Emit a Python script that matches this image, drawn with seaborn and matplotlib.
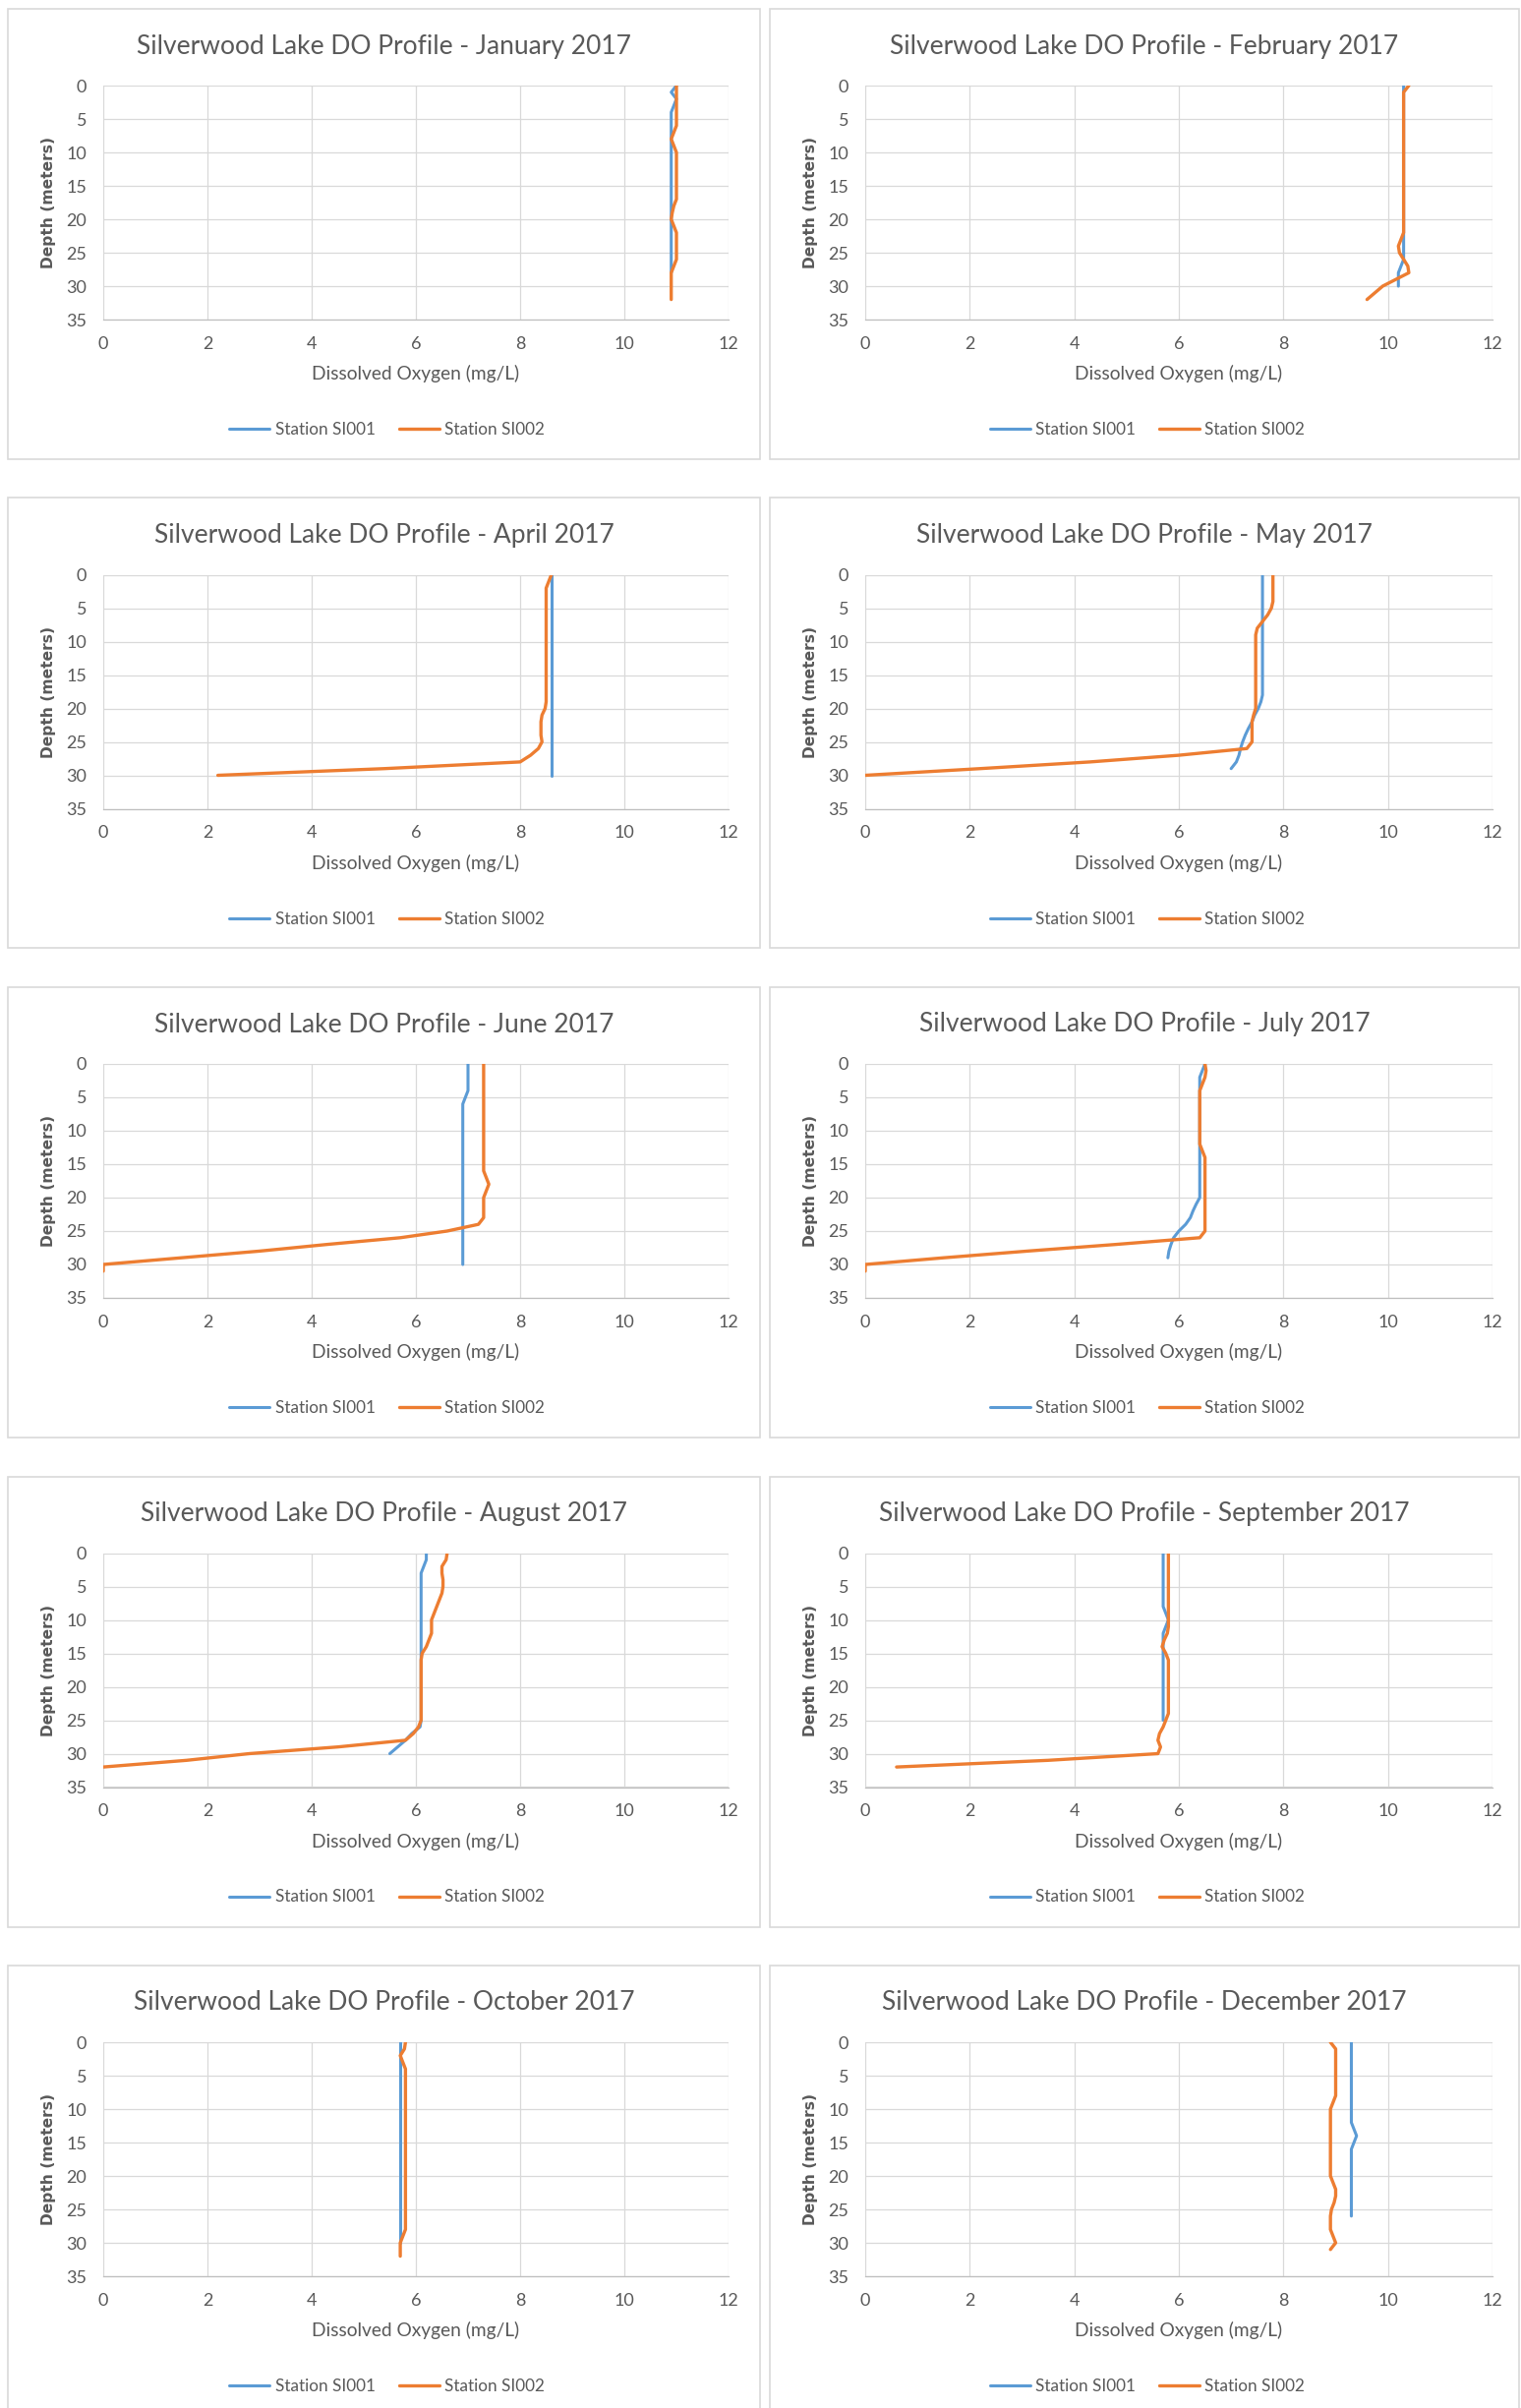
import matplotlib
matplotlib.use("Agg")
import matplotlib.pyplot as plt
import seaborn as sns
import pandas as pd
from matplotlib.patches import Rectangle

# depth readings (m), shared by every profile
depths = [0, 1, 2, 3, 4, 5, 6, 7, 8, 9, 10, 11, 12, 13, 14, 15, 16,
          17, 18, 19, 20, 21, 22, 23, 24, 25, 26, 27, 28, 29, 30, 31, 32]

months = ["January", "February", "April", "May", "June",
          "July", "August", "September", "October", "December"]

# dissolved oxygen (mg/L), one value per metre from the surface
jan_si001 = [11.0, 10.9, 11.0, 10.95, 10.9, 10.9, 10.9, 10.9, 10.9, 10.9, 10.9, 10.9, 10.9, 10.9, 10.9,
             10.9, 10.9, 10.9, 10.9, 10.9, 10.9, 10.9, 10.9, 10.9, 10.9, 10.9, 10.9, 10.9, 10.9]
jan_si002 = [11.0, 11.0, 11.0, 11.0, 11.0, 11.0, 11.0, 10.95, 10.9, 10.95, 11.0, 11.0, 11.0, 11.0, 11.0,
             11.0, 11.0, 11.0, 10.95, 10.92, 10.9, 10.95, 11.0, 11.0, 11.0, 11.0, 11.0, 10.95, 10.9,
             10.9, 10.9, 10.9, 10.9]

feb_si001 = [10.3, 10.3, 10.3, 10.3, 10.3, 10.3, 10.3, 10.3, 10.3, 10.3, 10.3, 10.3, 10.3, 10.3, 10.3,
             10.3, 10.3, 10.3, 10.3, 10.3, 10.3, 10.3, 10.3, 10.3, 10.3, 10.3, 10.3, 10.25, 10.2, 10.2, 10.2]
feb_si002 = [10.4, 10.3, 10.3, 10.3, 10.3, 10.3, 10.3, 10.3, 10.3, 10.3, 10.3, 10.3, 10.3, 10.3, 10.3,
             10.3, 10.3, 10.3, 10.3, 10.3, 10.3, 10.3, 10.3, 10.25, 10.2, 10.22, 10.3, 10.38, 10.4,
             10.15, 9.9, 9.75, 9.6]

apr_si001 = [8.6, 8.6, 8.6, 8.6, 8.6, 8.6, 8.6, 8.6, 8.6, 8.6, 8.6, 8.6, 8.6, 8.6, 8.6, 8.6,
             8.6, 8.6, 8.6, 8.6, 8.6, 8.6, 8.6, 8.6, 8.6, 8.6, 8.6, 8.6, 8.6, 8.6, 8.6]
apr_si002 = [8.6, 8.55, 8.5, 8.5, 8.5, 8.5, 8.5, 8.5, 8.5, 8.5, 8.5, 8.5, 8.5, 8.5, 8.5, 8.5,
             8.5, 8.5, 8.5, 8.5, 8.48, 8.42, 8.4, 8.4, 8.4, 8.42, 8.35, 8.2, 8.0, 5.4, 2.2]

may_si001 = [7.6, 7.6, 7.6, 7.6, 7.6, 7.6, 7.6, 7.6, 7.6, 7.6, 7.6, 7.6, 7.6, 7.6, 7.6, 7.6,
             7.6, 7.6, 7.6, 7.57, 7.52, 7.45, 7.4, 7.33, 7.27, 7.22, 7.18, 7.15, 7.1, 7.0]
may_si002 = [7.8, 7.8, 7.8, 7.8, 7.8, 7.77, 7.7, 7.6, 7.5, 7.47, 7.47, 7.47, 7.47, 7.47, 7.47, 7.47,
             7.47, 7.47, 7.47, 7.47, 7.47, 7.43, 7.4, 7.4, 7.4, 7.4, 7.3, 6.0, 4.3, 2.2, 0.0]

jun_si001 = [7.0, 7.0, 7.0, 7.0, 7.0, 6.95, 6.9, 6.9, 6.9, 6.9, 6.9, 6.9, 6.9, 6.9, 6.9, 6.9,
             6.9, 6.9, 6.9, 6.9, 6.9, 6.9, 6.9, 6.9, 6.9, 6.9, 6.9, 6.9, 6.9, 6.9, 6.9]
jun_si002 = [7.3, 7.3, 7.3, 7.3, 7.3, 7.3, 7.3, 7.3, 7.3, 7.3, 7.3, 7.3, 7.3, 7.3, 7.3, 7.3,
             7.3, 7.35, 7.4, 7.35, 7.3, 7.3, 7.3, 7.3, 7.2, 6.6, 5.7, 4.3, 3.0, 1.5, 0.0, 0.0]

jul_si001 = [6.5, 6.45, 6.4, 6.4, 6.4, 6.4, 6.4, 6.4, 6.4, 6.4, 6.4, 6.4, 6.4, 6.4, 6.4, 6.4,
             6.4, 6.4, 6.4, 6.4, 6.4, 6.33, 6.27, 6.22, 6.13, 6.0, 5.9, 5.85, 5.81, 5.79]
jul_si002 = [6.5, 6.52, 6.5, 6.45, 6.4, 6.4, 6.4, 6.4, 6.4, 6.4, 6.4, 6.4, 6.4, 6.45, 6.5, 6.5,
             6.5, 6.5, 6.5, 6.5, 6.5, 6.5, 6.5, 6.5, 6.5, 6.5, 6.4, 4.8, 3.1, 1.5, 0.0, 0.0]

aug_si001 = [6.2, 6.2, 6.15, 6.1, 6.1, 6.1, 6.1, 6.1, 6.1, 6.1, 6.1, 6.1, 6.1, 6.1, 6.1, 6.1,
             6.1, 6.1, 6.1, 6.1, 6.1, 6.1, 6.1, 6.1, 6.1, 6.1, 6.08, 5.92, 5.8, 5.65, 5.5]
aug_si002 = [6.6, 6.58, 6.5, 6.5, 6.52, 6.52, 6.5, 6.45, 6.4, 6.35, 6.3, 6.3, 6.3, 6.25, 6.2, 6.12,
             6.1, 6.1, 6.1, 6.1, 6.1, 6.1, 6.1, 6.1, 6.1, 6.1, 6.05, 5.95, 5.8, 4.5, 2.8, 1.6, 0.0]

sep_si001 = [5.7, 5.7, 5.7, 5.7, 5.7, 5.7, 5.7, 5.7, 5.7, 5.75, 5.8, 5.75, 5.7, 5.7, 5.7, 5.7,
             5.7, 5.7, 5.7, 5.7, 5.7, 5.7, 5.7, 5.7, 5.7, 5.7]
sep_si002 = [5.8, 5.8, 5.8, 5.8, 5.8, 5.8, 5.8, 5.8, 5.8, 5.8, 5.8, 5.8, 5.78, 5.72, 5.68, 5.75,
             5.8, 5.8, 5.8, 5.8, 5.8, 5.8, 5.8, 5.8, 5.8, 5.75, 5.7, 5.63, 5.6, 5.65, 5.6, 3.5, 0.6]

oct_si001 = [5.7, 5.7, 5.7, 5.7, 5.7, 5.7, 5.7, 5.7, 5.7, 5.7, 5.7, 5.7, 5.7, 5.7, 5.7, 5.7,
             5.7, 5.7, 5.7, 5.7, 5.7, 5.7, 5.7, 5.7, 5.7, 5.7, 5.7, 5.7, 5.7, 5.7, 5.7]
oct_si002 = [5.8, 5.78, 5.7, 5.75, 5.8, 5.8, 5.8, 5.8, 5.8, 5.8, 5.8, 5.8, 5.8, 5.8, 5.8, 5.8,
             5.8, 5.8, 5.8, 5.8, 5.8, 5.8, 5.8, 5.8, 5.8, 5.8, 5.8, 5.8, 5.8, 5.75, 5.7, 5.7, 5.7]

dec_si001 = [9.3, 9.3, 9.3, 9.3, 9.3, 9.3, 9.3, 9.3, 9.3, 9.3, 9.3, 9.3, 9.3, 9.35, 9.4, 9.35,
             9.3, 9.3, 9.3, 9.3, 9.3, 9.3, 9.3, 9.3, 9.3, 9.3, 9.3]
dec_si002 = [8.9, 9.0, 9.0, 9.0, 9.0, 9.0, 9.0, 9.0, 9.0, 8.95, 8.9, 8.9, 8.9, 8.9, 8.9, 8.9,
             8.9, 8.9, 8.9, 8.9, 8.9, 8.95, 9.0, 9.0, 8.97, 8.92, 8.9, 8.9, 8.9, 8.95, 9.0, 8.9]

si001 = [jan_si001, feb_si001, apr_si001, may_si001, jun_si001,
         jul_si001, aug_si001, sep_si001, oct_si001, dec_si001]
si002 = [jan_si002, feb_si002, apr_si002, may_si002, jun_si002,
         jul_si002, aug_si002, sep_si002, oct_si002, dec_si002]

W, H = 1547, 2449
BLUE = "#5B9BD5"
ORANGE = "#ED7D31"
TXT = "#595959"
GRID = "#D9D9D9"

sns.set_theme(style="white")
plt.rcParams['font.family'] = ['Lato', 'DejaVu Sans']

fig = plt.figure(figsize=(W / 100, H / 100), dpi=100)
fig.patch.set_facecolor("white")

ROW_STEP = 497.5
for i, month in enumerate(months):
    r, c = divmod(i, 2)
    off = r * ROW_STEP
    if c == 0:
        bx0, bx1, px0, px1 = 8, 773, 105, 741
    else:
        bx0, bx1, px0, px1 = 783, 1545, 880, 1518
    by0, by1 = 9 + off, 467 + off
    py0, py1 = 87 + off, 325 + off

    # chart border
    fig.patches.append(Rectangle((bx0 / W, 1 - by1 / H), (bx1 - bx0) / W, (by1 - by0) / H,
                                 transform=fig.transFigure, fill=False,
                                 edgecolor=GRID, linewidth=1.2))

    ax = fig.add_axes([px0 / W, 1 - py1 / H, (px1 - px0) / W, (py1 - py0) / H])
    d1 = pd.DataFrame({"do": si001[i], "depth": depths[:len(si001[i])]})
    d2 = pd.DataFrame({"do": si002[i], "depth": depths[:len(si002[i])]})
    sns.lineplot(data=d1, x="do", y="depth", sort=False, estimator=None, color=BLUE,
                 linewidth=2.2, label="Station SI001", ax=ax)
    sns.lineplot(data=d2, x="do", y="depth", sort=False, estimator=None, color=ORANGE,
                 linewidth=2.4, label="Station SI002", ax=ax)

    ax.set_xlim(0, 12)
    ax.set_ylim(35, 0)
    ax.set_xticks([0, 2, 4, 6, 8, 10, 12])
    ax.set_yticks([0, 5, 10, 15, 20, 25, 30, 35])
    ax.grid(True, color=GRID, linewidth=0.9)
    ax.set_axisbelow(True)
    for s in ["top", "left", "right"]:
        ax.spines[s].set_visible(False)
    ax.spines["bottom"].set_color("#BFBFBF")
    ax.spines["bottom"].set_linewidth(0.9)
    ax.tick_params(axis="both", length=0, pad=12, labelsize=13, colors=TXT)

    ax.set_xlabel("Dissolved Oxygen (mg/L)", fontsize=13.8, color=TXT)
    ax.xaxis.set_label_coords(0.5, (py1 - 380 - off) / (py1 - py0))
    ax.xaxis.label.set_va("center")
    ax.set_ylabel("Depth (meters)", fontsize=11.2, color=TXT, fontweight="bold",
                  family=["DejaVu Sans"])
    ax.yaxis.set_label_coords((50 - px0 + (0 if c == 0 else 775)) / (px1 - px0), 0.5)
    ax.yaxis.label.set_va("center")

    fig.text((bx0 + bx1) / 2 / W, 1 - (47 + off) / H,
             "Silverwood Lake DO Profile - " + month + " 2017",
             ha="center", va="center", fontsize=19, color=TXT)

    lx = ((bx0 + bx1) / 2 + 3 - px0) / (px1 - px0)
    ly = (py1 - (437 + off)) / (py1 - py0)
    leg = ax.legend(loc="center", bbox_to_anchor=(lx, ly), ncol=2, frameon=False,
                    fontsize=12.3, handlelength=2.4, handletextpad=0.3, columnspacing=1.4)
    for t in leg.get_texts():
        t.set_color(TXT)

fig.savefig("out.png", dpi=100, facecolor="white")
